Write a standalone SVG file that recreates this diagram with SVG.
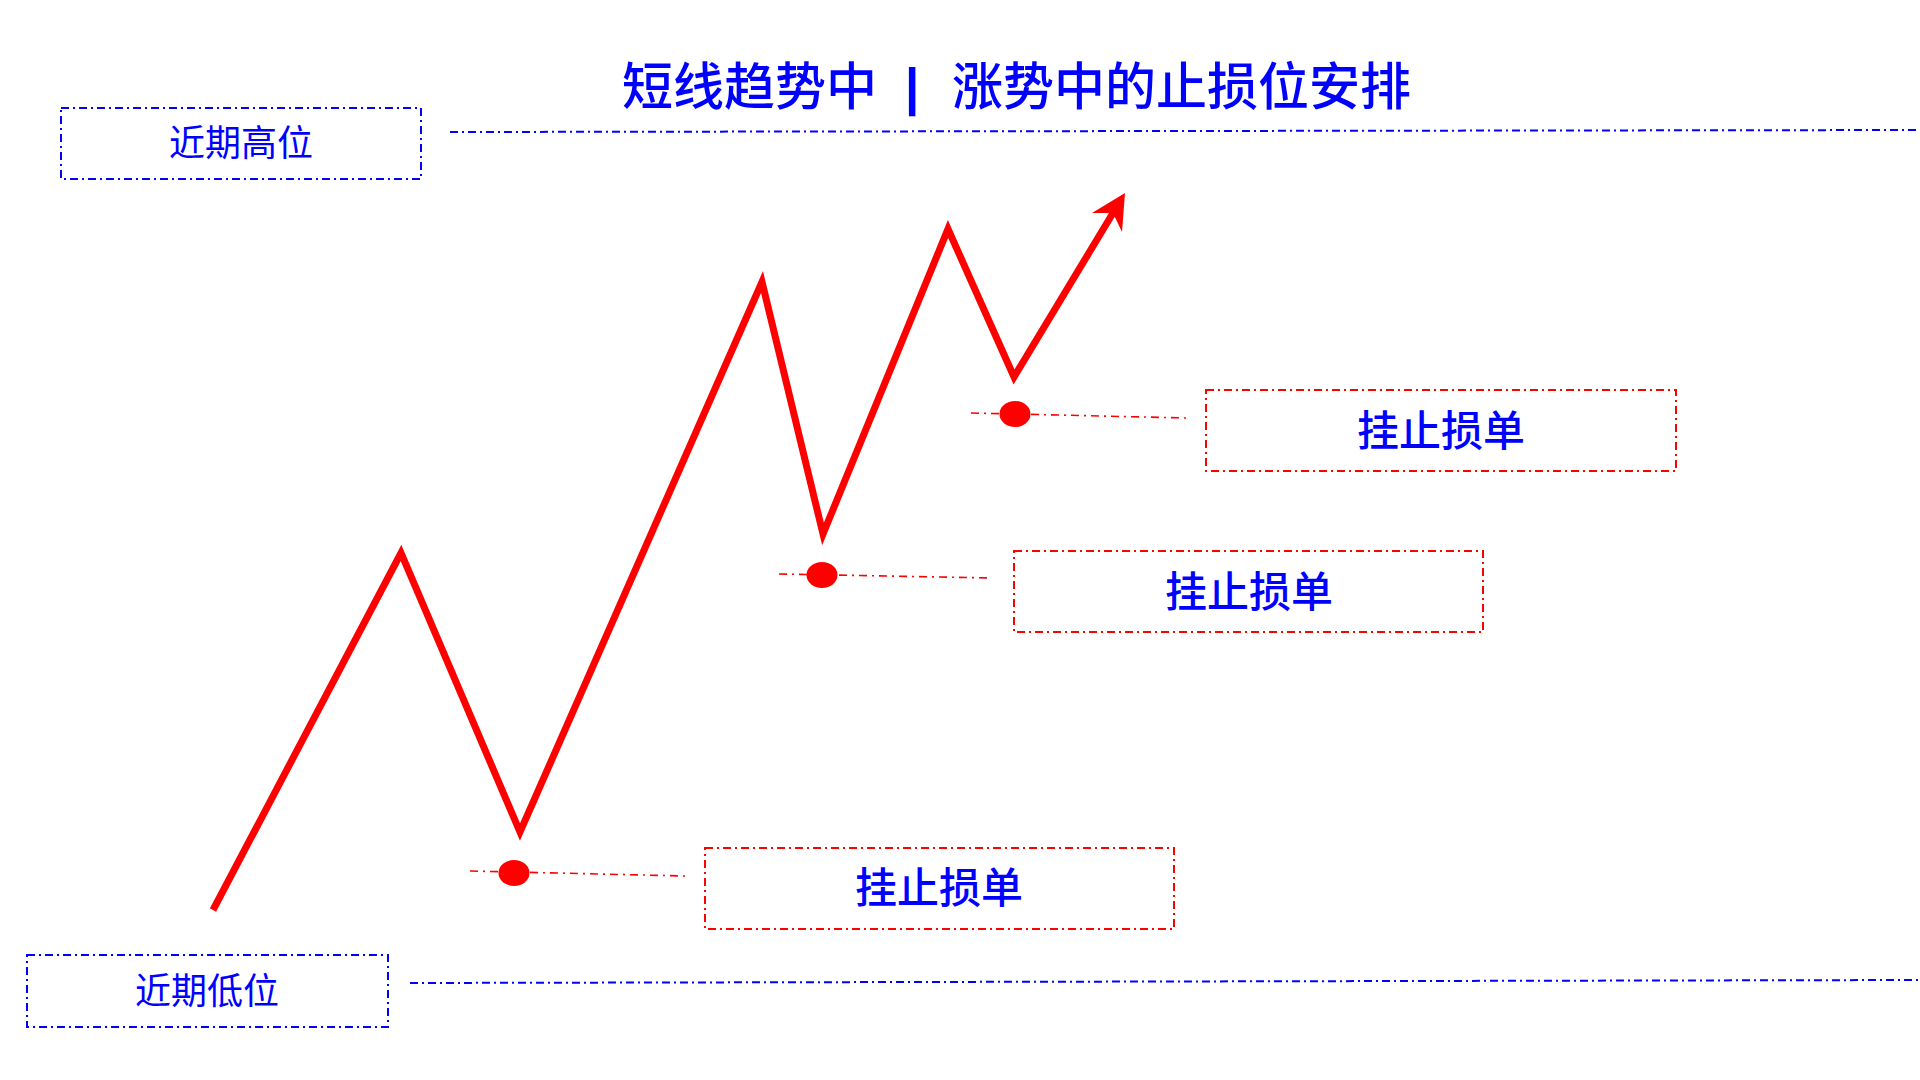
<svg xmlns="http://www.w3.org/2000/svg" width="1920" height="1080" viewBox="0 0 1920 1080">
<style>
.bg{fill:#ffffff}
.bbox{fill:none;stroke:#0000ff;stroke-width:2;stroke-dasharray:8 4 2 4}
.rbox{fill:none;stroke:#ff0000;stroke-width:2;stroke-dasharray:8 4 2 4}
.bline{fill:none;stroke:#0000ff;stroke-width:2;stroke-dasharray:8 4 2 4}
.rline{fill:none;stroke:#ff0000;stroke-width:1.6;stroke-dasharray:8 5 2 5}
.price{fill:none;stroke:#ff0000;stroke-width:7;stroke-linejoin:miter;stroke-miterlimit:10}
.dot{fill:#ff0000}
.lbl{font-family:"Noto Sans CJK SC","Liberation Sans",sans-serif;fill:#0000ff;font-size:36px;text-anchor:middle}
.stop{font-family:"Noto Sans CJK SC","Liberation Sans",sans-serif;fill:#0000ff;font-size:42px;font-weight:500;text-anchor:middle}
.title{font-family:"Noto Sans CJK SC","Liberation Sans",sans-serif;fill:#0000ff;font-size:51px;font-weight:500}
</style>
<rect class="bg" x="0" y="0" width="1920" height="1080"/>
<g id="title">
<text class="title" y="105"><tspan x="622">短线趋势中</tspan><tspan x="905" font-family="Liberation Sans, sans-serif" font-weight="bold">|</tspan><tspan x="952">涨势中的止损位安排</tspan></text>
</g>
<g id="connectors">
<line class="bline" x1="450" y1="132" x2="1920" y2="130"/>
<line class="bline" x1="410" y1="983" x2="1920" y2="980"/>
<line class="rline" x1="470" y1="871" x2="685" y2="876"/>
<line class="rline" x1="779" y1="574" x2="992" y2="578"/>
<line class="rline" x1="971" y1="413" x2="1187" y2="418"/>
<polyline class="price" points="213,910 401,553 520,832 762,282 823,534 948,229 1014,377 1113,213"/>
<polygon class="dot" points="1125,193 1092,213 1113,213 1122,232"/>
</g>
<g id="node-high">
<rect class="bbox" x="61" y="108" width="360" height="71"/>
<text class="lbl" x="241" y="156">近期高位</text>
</g>
<g id="node-low">
<rect class="bbox" x="27" y="955" width="361" height="72"/>
<text class="lbl" x="207" y="1004">近期低位</text>
</g>
<g id="dot-1"><ellipse class="dot" cx="514" cy="873" rx="15.5" ry="13"/></g>
<g id="dot-2"><ellipse class="dot" cx="822" cy="575" rx="15.5" ry="13"/></g>
<g id="dot-3"><ellipse class="dot" cx="1015" cy="414" rx="15.5" ry="13"/></g>
<g id="stop-1">
<rect class="rbox" x="705" y="848" width="469" height="81"/>
<text class="stop" x="939" y="903">挂止损单</text>
</g>
<g id="stop-2">
<rect class="rbox" x="1014" y="551" width="469" height="81"/>
<text class="stop" x="1249" y="607">挂止损单</text>
</g>
<g id="stop-3">
<rect class="rbox" x="1206" y="390" width="470" height="81"/>
<text class="stop" x="1441" y="446">挂止损单</text>
</g>
</svg>
